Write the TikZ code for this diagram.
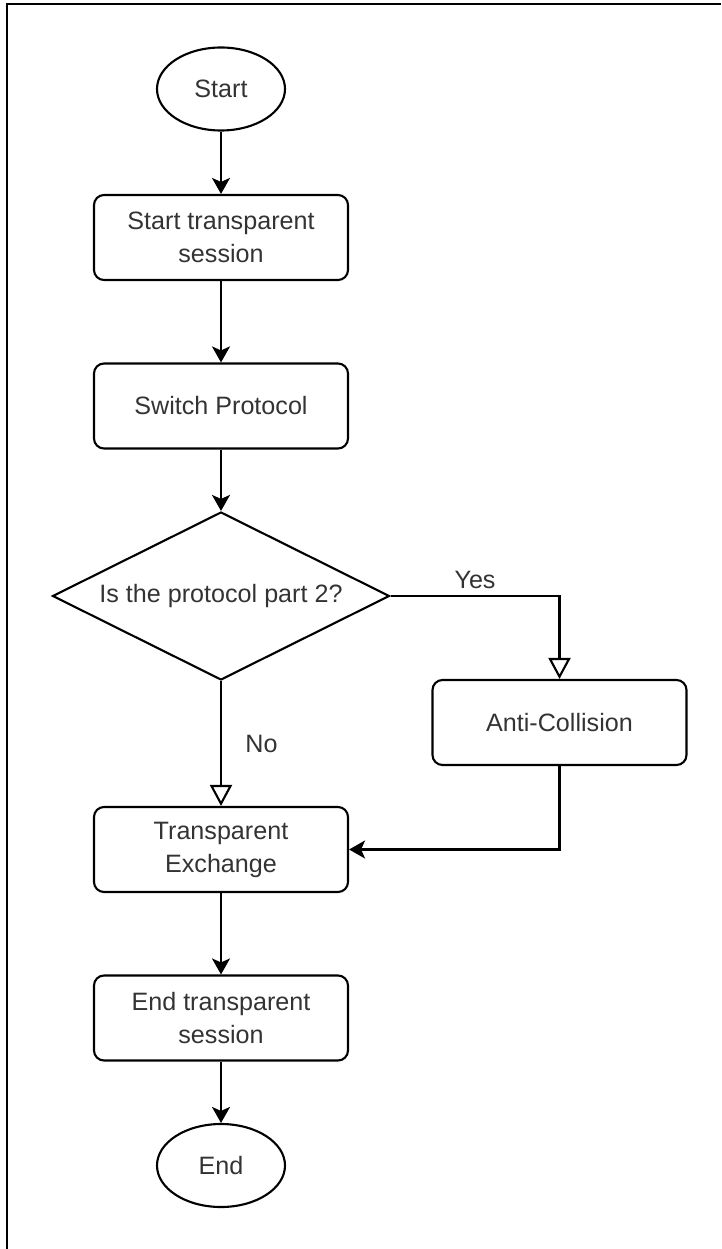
\documentclass[tikz,border=0pt]{standalone}
\usepackage{fontspec}
\setmainfont{Liberation Sans}
\usetikzlibrary{shapes.geometric, positioning, arrows.meta}
\definecolor{labelgray}{HTML}{333333}
\tikzset{
	node distance=3.37cm, % centre to centre distance between two steps
	every node/.style={font=\fontsize{14.3}{18.8}\selectfont, text=labelgray}, % arial-like labels
	process/.style={draw, rectangle, rounded corners=0.2cm, minimum width=5.08cm, minimum height=1.7cm, align=center}, % plain step
	terminal/.style={draw, ellipse, minimum width=2.56cm, minimum height=1.66cm}, % start and end
	decision/.style={draw, diamond, shape aspect=2, minimum width=6.74cm, minimum height=3.36cm, inner sep=0pt}, % the question
	flow/.style={-{Stealth[length=0.32cm, width=0.36cm, inset=0.08cm]}}, % filled arrow head
	branch/.style={-{Triangle[open, length=0.42cm, width=0.44cm]}}, % open arrow head for yes / no
}
\begin{document}
\begin{tikzpicture}[line width=1.2pt]
	\useasboundingbox (0,0) rectangle (14.42,-24.98);
	
	% Frame
	\draw[line width=1.4pt] (0.14,-24.98) -- (0.14,-0.08) -- (14.42,-0.08);
	
	% Steps
	\node[terminal] (start) at (4.42,-1.78) {Start};
	\node[process, below of=start, yshift=0.4cm] (startsess) {Start transparent\\session};
	\node[process, below of=startsess] (switch) {Switch Protocol};
	\node[decision, below of=switch, yshift=-0.43cm] (isproto) {Is the protocol part 2?};
	\node[process, right of=isproto, xshift=3.4cm, yshift=-2.53cm] (anticoll) {Anti-Collision};
	\node[process, below of=isproto, yshift=-1.7cm] (exchange) {Transparent\\Exchange};
	\node[process, below of=exchange] (endsess) {End transparent\\session};
	\node[terminal, below of=endsess, yshift=0.42cm] (end) {End};
	
	% Arrows
	\draw[flow] (start) edge (startsess)
	(startsess) edge (switch)
	(switch) edge (isproto)
	(exchange) edge (endsess)
	(endsess) edge (end);
	\draw[branch] (isproto.east) -| node[pos=0.25, above] {Yes} (anticoll.north);
	\draw[branch] (isproto.south) -- node[right, xshift=0.35cm] {No} (exchange.north);
	\draw[flow] (anticoll.south) |- (exchange.east);
	
\end{tikzpicture}
\end{document}
